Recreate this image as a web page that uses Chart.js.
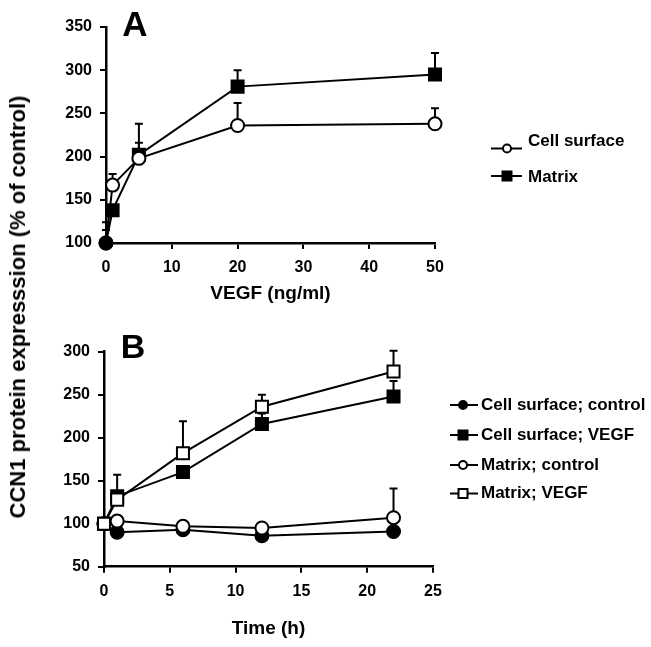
<!DOCTYPE html>
<html>
<head>
<meta charset="utf-8">
<script src="https://cdn.jsdelivr.net/npm/chart.js@4.4.0/dist/chart.umd.min.js"></script>
<style>
  body { margin: 0; background: #fff; }
  #wrap { position: relative; width: 651px; height: 647px; }
  #wrap canvas { position: absolute; left: 0; }
  #chartA { top: 0; }
  #chartB { top: 310px; }
  .txt { position: absolute; white-space: nowrap; font-family: "Liberation Sans", Arial, sans-serif; font-weight: bold; color: #000; transform: translate(-50%, -50%); line-height: 1; }
  #ytitle { left: 18px; top: 307px; font-size: 22px; transform: translate(-50%, -50%) rotate(-90deg); }
  #panelA { left: 135px; top: 23px; font-size: 35px; }
  #panelB { left: 133px; top: 346px; font-size: 34px; }
</style>
</head>
<body>
<div id="wrap">
  <canvas id="chartA" width="651" height="310"></canvas>
  <canvas id="chartB" width="651" height="337"></canvas>
  <div class="txt" id="ytitle">CCN1 protein expresssion (% of control)</div>
  <div class="txt" id="panelA">A</div>
  <div class="txt" id="panelB">B</div>
</div>
<script>
// Panel A: dose response
const vegfDoses = [0, 1, 5, 20, 50];
const surfaceByDose = [100, 167, 198, 236, 238];
const surfaceByDoseErr = [115, 180, 216, 262, 256];
const matrixByDose = [100, 138, 202, 281, 295];
const matrixByDoseErr = [124, null, 238, 300, 320];
const seriesA = ['Cell surface', 'Matrix'];

// Panel B: time course
const hours = [0, 1, 6, 12, 22];
const surfaceControl = [100, 90, 93, 86, 91];
const surfaceVegf = [100, 132, 160, 216, 248];
const surfaceVegfErr = [null, null, null, 228, 266];
const matrixControl = [100, 103, 97, 95, 107];
const matrixControlErr = [null, null, null, null, 141];
const matrixVegf = [100, 128, 182, 236, 277];
const matrixVegfErr = [null, 157, 219, 250, 301];
const seriesB = ['Cell surface; control', 'Cell surface; VEGF', 'Matrix; control', 'Matrix; VEGF'];

const FONT = '"Liberation Sans", Arial, sans-serif';
Chart.defaults.font.family = FONT;
Chart.defaults.color = '#000';

const toXY = (xs, ys) => xs.map((x, i) => ({ x: x, y: ys[i] }));

// upward error bars, drawn under the markers
const errorBars = {
  id: 'errorBars',
  beforeDatasetsDraw(chart) {
    const ctx = chart.ctx;
    const yScale = chart.scales.y;
    ctx.save();
    ctx.strokeStyle = '#000';
    ctx.lineWidth = 2;
    chart.data.datasets.forEach((ds, i) => {
      if (!ds.errTop) return;
      const meta = chart.getDatasetMeta(i);
      ds.errTop.forEach((top, j) => {
        if (top == null) return;
        const pt = meta.data[j];
        const yTop = yScale.getPixelForValue(top);
        ctx.beginPath();
        ctx.moveTo(pt.x, pt.y);
        ctx.lineTo(pt.x, yTop);
        ctx.moveTo(pt.x - 4, yTop);
        ctx.lineTo(pt.x + 4, yTop);
        ctx.stroke();
      });
    });
    ctx.restore();
  }
};

function drawMarker(ctx, style, filled, x, y, r) {
  ctx.beginPath();
  if (style === 'rect') ctx.rect(x - r, y - r, 2 * r, 2 * r);
  else ctx.arc(x, y, r, 0, Math.PI * 2);
  ctx.fillStyle = filled ? '#000' : '#fff';
  ctx.fill();
  ctx.lineWidth = 2;
  ctx.strokeStyle = '#000';
  ctx.stroke();
}

// legend with line + marker on the right side
const sideLegend = {
  id: 'sideLegend',
  afterDraw(chart, args, opts) {
    const ctx = chart.ctx;
    ctx.save();
    opts.items.forEach(it => {
      const ds = chart.data.datasets[it.ds];
      ctx.strokeStyle = '#000';
      ctx.lineWidth = 2;
      ctx.beginPath();
      ctx.moveTo(opts.x0, it.lineY);
      ctx.lineTo(opts.x1, it.lineY);
      ctx.stroke();
      drawMarker(ctx, ds.legendStyle, ds.legendFilled, opts.mx, it.lineY, ds.legendStyle === 'rect' ? 4.5 : 4);
      ctx.font = 'bold 17px ' + FONT;
      ctx.fillStyle = '#000';
      ctx.textBaseline = 'middle';
      ctx.textAlign = 'left';
      ctx.fillText(ds.label, opts.tx, it.textY);
    });
    ctx.restore();
  }
};

function lineSet(label, xs, ys, err, style, filled, extra) {
  return Object.assign({
    label: label,
    data: toXY(xs, ys),
    errTop: err,
    legendStyle: style,
    legendFilled: filled,
    borderColor: '#000',
    borderWidth: 2,
    tension: 0,
    pointStyle: style,
    pointRadius: style === 'rect' ? 8.5 : 6.5,
    pointBorderColor: '#000',
    pointBorderWidth: 2,
    pointBackgroundColor: filled ? '#000' : '#fff',
    clip: false
  }, extra || {});
}

function axes(xMax, xStep, yMin, yMax, xTitle, yWidth, xHeight, titlePad) {
  const grid = { drawOnChartArea: false, drawTicks: true, tickLength: 6, color: '#000', lineWidth: 2 };
  const border = { display: true, color: '#000', width: 2.5 };
  const tickFont = { size: 16, weight: 'bold' };
  return {
    x: {
      type: 'linear', min: 0, max: xMax,
      grid: grid, border: border,
      ticks: { stepSize: xStep, font: tickFont, color: '#000', padding: 9, maxRotation: 0 },
      title: { display: true, text: xTitle, font: { size: 19, weight: 'bold' }, color: '#000', padding: { top: 0, bottom: titlePad } },
      afterFit: s => { s.height = xHeight; }
    },
    y: {
      min: yMin, max: yMax,
      grid: grid, border: border,
      ticks: { stepSize: 50, font: tickFont, color: '#000', padding: 8 },
      afterFit: s => { s.width = yWidth; }
    }
  };
}

new Chart(document.getElementById('chartA'), {
  type: 'line',
  data: {
    datasets: [
      lineSet(seriesA[0], vegfDoses, surfaceByDose, surfaceByDoseErr, 'circle', false, {
        pointBackgroundColor: c => c.dataIndex === 0 ? '#000' : '#fff'
      }),
      lineSet(seriesA[1], vegfDoses, matrixByDose, matrixByDoseErr, 'rect', true, {
        pointStyle: c => c.dataIndex === 0 ? 'circle' : 'rect',
        pointRadius: c => c.dataIndex === 0 ? 6.5 : 8.5
      })
    ]
  },
  options: {
    responsive: false,
    animation: false,
    layout: { padding: { top: 27, right: 216, bottom: 0, left: 0 } },
    scales: axes(50, 10, 100, 350, 'VEGF (ng/ml)', 106, 67, 5),
    plugins: {
      legend: { display: false },
      tooltip: { enabled: false },
      sideLegend: {
        x0: 491, x1: 522, mx: 507, tx: 528,
        items: [{ ds: 0, lineY: 148.5, textY: 141 }, { ds: 1, lineY: 176, textY: 177 }]
      }
    }
  },
  plugins: [errorBars, sideLegend]
});

new Chart(document.getElementById('chartB'), {
  type: 'line',
  data: {
    datasets: [
      lineSet(seriesB[0], hours, surfaceControl, null, 'circle', true, { order: 3 }),
      lineSet(seriesB[1], hours, surfaceVegf, surfaceVegfErr, 'rect', true, { order: 2 }),
      lineSet(seriesB[2], hours, matrixControl, matrixControlErr, 'circle', false, { order: 1 }),
      lineSet(seriesB[3], hours, matrixVegf, matrixVegfErr, 'rect', false, { order: 0 })
    ]
  },
  options: {
    responsive: false,
    animation: false,
    layout: { padding: { top: 41.7, right: 218, bottom: 0, left: 0 } },
    scales: axes(25, 5, 50, 300, 'Time (h)', 104, 80.3, 7),
    plugins: {
      legend: { display: false },
      tooltip: { enabled: false },
      sideLegend: {
        x0: 450, x1: 478, mx: 463, tx: 481,
        items: [
          { ds: 0, lineY: 95, textY: 95 },
          { ds: 1, lineY: 125, textY: 125 },
          { ds: 2, lineY: 155, textY: 155 },
          { ds: 3, lineY: 183.5, textY: 183.5 }
        ]
      }
    }
  },
  plugins: [errorBars, sideLegend]
});
</script>
</body>
</html>
